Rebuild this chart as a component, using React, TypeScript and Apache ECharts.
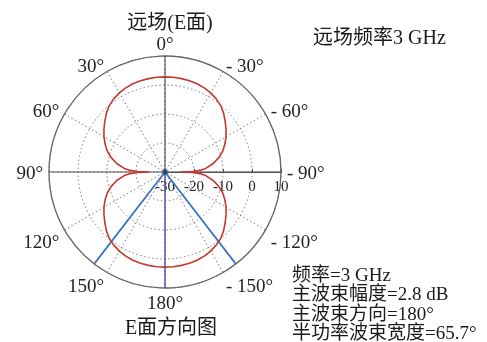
import React, { useEffect, useRef } from "react";
import * as echarts from "echarts";

const SERIF = "'Liberation Serif', 'Times New Roman', 'Noto Sans CJK SC', serif";

// Radial gain scale (dB) and angular grid step (degrees)
const gainRange = [-30, 10];
const gainStep = 10;
const angleStep = 30;

// E-plane far-field pattern: angle (deg, 0 = top, positive counter-clockwise) and gain (dB)
const patternAngle = [
  -90, -89, -87, -85, -80, -75, -70, -65, -60, -55, -50, -45, -40, -35, -30, -25, -20, -15, -10, -5,
  0, 5, 10, 15, 20, 25, 30, 35, 40, 45, 50, 55, 60, 65, 70, 75, 80, 85, 87, 89,
  90, 91, 93, 95, 100, 105, 110, 115, 120, 125, 130, 135, 140, 145, 150, 155, 160, 165, 170, 175,
  180, 185, 190, 195, 200, 205, 210, 215, 220, 225, 230, 235, 240, 245, 250, 255, 260, 265, 267, 269, 270,
];
const patternGain = [
  -24.5, -20.5, -17.5, -15.9, -13.1, -10.8, -8.8, -7.2, -5.7, -4.3, -2.9, -1.4, -0.1, 0.8, 1.5, 2.0, 2.4, 2.6, 2.7, 2.8,
  2.8, 2.8, 2.7, 2.6, 2.4, 2.0, 1.5, 0.8, -0.1, -1.4, -2.9, -4.3, -5.7, -7.2, -8.8, -10.8, -13.1, -15.9, -17.5, -20.5,
  -24.5, -20.5, -17.5, -15.9, -13.1, -10.8, -8.8, -7.2, -5.7, -4.3, -2.9, -1.4, -0.1, 0.8, 1.5, 2.0, 2.4, 2.6, 2.7, 2.8,
  2.8, 2.8, 2.7, 2.6, 2.4, 2.0, 1.5, 0.8, -0.1, -1.4, -2.9, -4.3, -5.7, -7.2, -8.8, -10.8, -13.1, -15.9, -17.5, -20.5, -24.5,
];

// Half-power beam edges around the main beam direction
const mainBeamDir = 180;
const halfPowerEdges = [142.4, 217.6];

const titleText = "远场(E面)";
const freqText = "远场频率3 GHz";
const captionText = "E面方向图";
const infoLines = ["频率=3 GHz", "主波束幅度=2.8 dB", "主波束方向=180°", "半功率波束宽度=65.7°"];

export default function App() {
  const ref = useRef<HTMLDivElement>(null);

  useEffect(() => {
    const chart = echarts.init(ref.current!, null, { renderer: "svg" });
    const [rMin, rMax] = gainRange;
    const pattern = patternAngle.map((a, i) => [patternGain[i], a]);
    const labelBase = { fontSize: 19, fontFamily: SERIF, color: "#222" };

    const lineSeries = (data: number[][], color: string, width: number, z = 3) => ({
      type: "line",
      coordinateSystem: "polar",
      data,
      symbol: "none",
      silent: true,
      z,
      lineStyle: { color, width },
    });

    chart.setOption({
      animation: false,
      polar: { center: [165, 172], radius: 116 },
      angleAxis: {
        type: "value",
        min: -90,
        max: 270,
        interval: angleStep,
        startAngle: 0,
        clockwise: false,
        axisLine: { lineStyle: { color: "#6a6464", width: 1.3 } },
        axisTick: { show: false },
        axisLabel: {
          margin: 6,
          formatter: (v: number) => {
            const deg = v > 180 ? v - 360 : v;
            const txt = deg < 0 ? `- ${-deg}°` : `${deg}°`;
            const key = deg === 0 ? "top" : Math.abs(deg) > 90 ? "low" : "mid";
            return `{${key}|${txt}}`;
          },
          rich: {
            top: { ...labelBase, lineHeight: 14 },
            low: { ...labelBase, lineHeight: 16 },
            mid: { ...labelBase, lineHeight: 1 },
          },
        },
        splitLine: { lineStyle: { color: "#7a7a7a", type: [1.5, 2.5], width: 1 } },
      },
      radiusAxis: {
        type: "value",
        min: rMin,
        max: rMax,
        interval: gainStep,
        axisLine: { lineStyle: { color: "#555", width: 1.2 } },
        axisTick: { show: true, length: 3, lineStyle: { color: "#444" } },
        axisLabel: {
          margin: -14,
          fontSize: 15,
          fontFamily: SERIF,
          color: "#222",
          verticalAlign: "middle",
          lineHeight: 16,
        },
        splitLine: { lineStyle: { color: "#7a7a7a", type: [1.5, 2.5], width: 1 } },
      },
      series: [
        lineSeries([[rMax, 90], [rMin, 90], [rMin, -90], [rMax, -90]], "#555", 1.2, 2),
        lineSeries([[rMax, 0], [rMin, 0]], "#555", 1.2, 2),
        lineSeries([[rMin, mainBeamDir], [rMax, mainBeamDir]], "#5a55a5", 1.5, 3),
        lineSeries(
          [[rMax, halfPowerEdges[0]], [rMin, halfPowerEdges[0]], [rMax, halfPowerEdges[1]]],
          "#3b76c6",
          1.8,
          4
        ),
        lineSeries(pattern, "#c4392f", 1.6, 5),
        {
          type: "scatter",
          coordinateSystem: "polar",
          data: [[rMin, 0]],
          symbolSize: 5,
          silent: true,
          z: 6,
          itemStyle: { color: "#1d3470" },
        },
      ],
      graphic: [
        {
          type: "text",
          x: 170,
          y: 22,
          style: { text: titleText, fontSize: 20, fontFamily: SERIF, fill: "#1a1a1a", align: "center", verticalAlign: "middle" },
        },
        {
          type: "text",
          x: 313,
          y: 37,
          style: { text: freqText, fontSize: 20, fontFamily: SERIF, fill: "#1a1a1a", align: "left", verticalAlign: "middle" },
        },
        {
          type: "text",
          x: 171,
          y: 327,
          style: { text: captionText, fontSize: 20, fontFamily: SERIF, fill: "#1a1a1a", align: "center", verticalAlign: "middle" },
        },
        ...infoLines.map((t, i) => ({
          type: "text",
          x: 292,
          y: 274 + i * 19.5,
          style: { text: t, fontSize: 19, fontFamily: SERIF, fill: "#1a1a1a", align: "left", verticalAlign: "middle" },
        })),
      ],
    });

    return () => chart.dispose();
  }, []);

  return <div ref={ref} style={{ position: "fixed", left: 0, top: 0, width: 487, height: 342 }} />;
}
